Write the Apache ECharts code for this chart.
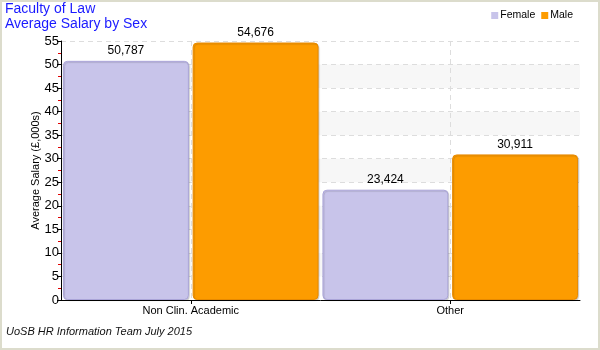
<!DOCTYPE html>
<html>
<head>
<meta charset="utf-8">
<script src="https://cdn.jsdelivr.net/npm/echarts@6/dist/echarts.min.js"></script>
<style>
html,body{margin:0;padding:0;background:#fff;}
#chart{width:600px;height:350px;}
</style>
</head>
<body>
<div id="chart"></div>
<script>
var categories = ['Non Clin. Academic', 'Other'];
var femaleSalary = [50787, 23424];
var maleSalary = [54676, 30911];
var titleLines = ['Faculty of Law', 'Average Salary by Sex'];
var footerText = 'UoSB HR Information Team July 2015';
var yAxisTitle = 'Average Salary (£,000s)';

var FONT = '"Liberation Sans", Arial, sans-serif';
function toK(arr){ return arr.map(function(v){ return v / 1000; }); }
function fmt(p){ return Math.round(p.value * 1000).toLocaleString('en-US'); }

var chart = echarts.init(document.getElementById('chart'), null, {renderer: 'canvas'});
chart.setOption({
  animation: false,
  backgroundColor: '#ffffff',
  textStyle: {fontFamily: FONT},
  title: {
    text: titleLines.join('\n'),
    left: 5, top: 2, padding: 0,
    textStyle: {color: '#1a1aff', fontSize: 14, fontWeight: 'normal', fontFamily: FONT, lineHeight: 15}
  },
  legend: {
    right: 22, top: 5,
    itemWidth: 7, itemHeight: 7, itemGap: 6,
    icon: 'rect',
    itemStyle: {borderWidth: 0, shadowBlur: 0, shadowOffsetX: 0, shadowOffsetY: 0},
    textStyle: {fontSize: 10.5, color: '#000', fontFamily: FONT, padding: [0,0,0,-3]},
    data: ['Female', 'Male']
  },
  graphic: [
    {type: 'rect', shape: {x: 1, y: 1, width: 598, height: 348}, style: {fill: 'none', stroke: '#dcdccc', lineWidth: 2}, z: 100, silent: true},
    {type: 'text', left: 6, top: 326, style: {text: footerText, fontSize: 11, fontStyle: 'italic', fill: '#111', fontFamily: FONT}}
  ],
  grid: {left: 61, right: 20, top: 41, bottom: 50},
  xAxis: {
    type: 'category',
    data: categories,
    axisLine: {lineStyle: {color: '#000', width: 1}},
    axisTick: {show: true, alignWithLabel: true, length: 4, lineStyle: {color: '#000'}},
    axisLabel: {color: '#000', fontSize: 11, margin: 5, fontFamily: FONT},
    splitLine: {show: true, alignWithLabel: true, lineStyle: {color: '#dddddd', type: [5, 4]}}
  },
  yAxis: {
    type: 'value',
    min: 0, max: 55, interval: 5,
    name: yAxisTitle,
    nameLocation: 'middle',
    nameGap: 20,
    nameMoveOverlap: false,
    nameTextStyle: {fontSize: 11, color: '#000', fontFamily: FONT},
    axisLine: {show: true, lineStyle: {color: '#000'}},
    axisTick: {show: true, length: 4, lineStyle: {color: '#000'}},
    minorTick: {show: true, splitNumber: 2, length: 3, lineStyle: {color: '#e00000'}},
    axisLabel: {color: '#000', fontSize: 13, margin: 2, fontFamily: FONT},
    splitLine: {show: true, lineStyle: {color: '#dddddd', type: [5, 4]}},
    splitArea: {show: true, areaStyle: {color: ['rgba(255,255,255,0)', '#f7f7f7']}}
  },
  series: [
    {
      name: 'Female', type: 'bar',
      data: toK(femaleSalary),
      barGap: '3%', barCategoryGap: '1.5%',
      itemStyle: {color: '#c8c4ea', borderColor: '#aaa4d8', borderWidth: 1, borderRadius: 4,
        shadowColor: 'rgba(0,0,0,0.15)', shadowBlur: 1, shadowOffsetX: 1, shadowOffsetY: 1},
      label: {show: true, position: 'top', distance: 4, color: '#000', fontSize: 12, fontFamily: FONT, formatter: fmt}
    },
    {
      name: 'Male', type: 'bar',
      data: toK(maleSalary),
      barGap: '3%', barCategoryGap: '1.5%',
      itemStyle: {color: '#fd9c00', borderColor: '#e88a00', borderWidth: 1, borderRadius: 4,
        shadowColor: 'rgba(0,0,0,0.15)', shadowBlur: 1, shadowOffsetX: 1, shadowOffsetY: 1},
      label: {show: true, position: 'top', distance: 4, color: '#000', fontSize: 12, fontFamily: FONT, formatter: fmt}
    }
  ]
});
</script>
</body>
</html>
